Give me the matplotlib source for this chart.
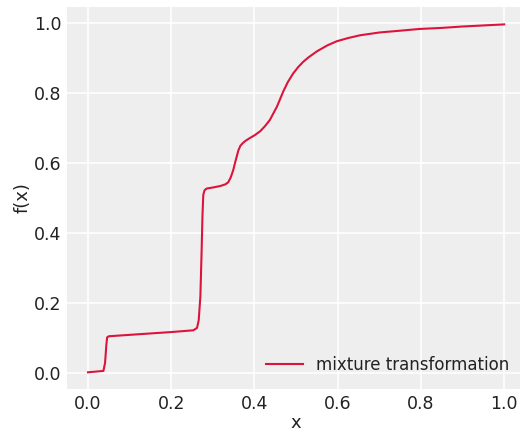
import numpy as np
import matplotlib
matplotlib.use("Agg")
import matplotlib.pyplot as plt

# points
x_vals = [0.0, 0.037, 0.041, 0.044, 0.046, 0.05, 0.10, 0.15, 0.20, 0.253, 0.262, 0.266,
          0.270, 0.273, 0.275, 0.277, 0.280, 0.285, 0.300, 0.317, 0.330, 0.337, 0.343,
          0.349, 0.353, 0.357, 0.361, 0.366, 0.372, 0.378, 0.387, 0.400, 0.414, 0.425,
          0.437, 0.445, 0.454, 0.461, 0.469, 0.480, 0.493, 0.505, 0.517, 0.530, 0.550,
          0.575, 0.598, 0.625, 0.654, 0.701, 0.750, 0.797, 0.850, 0.900, 0.950, 1.0]
f_vals = [0.003, 0.007, 0.03, 0.08, 0.103, 0.106, 0.110, 0.114, 0.118, 0.123, 0.13, 0.152,
          0.22, 0.35, 0.45, 0.51, 0.523, 0.528, 0.531, 0.535, 0.540, 0.546, 0.560,
          0.581, 0.600, 0.618, 0.636, 0.650, 0.658, 0.664, 0.671, 0.680, 0.692, 0.706,
          0.724, 0.742, 0.762, 0.782, 0.805, 0.832, 0.857, 0.875, 0.890, 0.903, 0.920,
          0.937, 0.949, 0.958, 0.966, 0.974, 0.979, 0.984, 0.987, 0.991, 0.994, 0.997]

plt.rcParams['font.family'] = ['DejaVu Sans']

fig = plt.figure(figsize=(5.2, 4.34), dpi=100)
# the reference is cropped on the right, so the axes run a little past the edge
ax = fig.add_axes([67.2 / 520, 1 - 389 / 434, (525 - 67.2) / 520, (389 - 7) / 434])
ax.set_facecolor('#eeeeee')
for s in ax.spines.values():
    s.set_visible(False)
ax.grid(True, color='white', linewidth=1.1)
ax.set_axisbelow(True)
ax.tick_params(length=0, labelsize=12.5, labelcolor='#222222', pad=4)

ax.plot(x_vals, f_vals, color='#dc143c', linewidth=1.5, label='mixture transformation')
ax.set_xlim(-0.05, 1.05)
ax.set_ylim(-0.0447, 1.0467)
ax.set_xticks(np.arange(0, 1.01, 0.2))
ax.set_yticks(np.arange(0, 1.01, 0.2))
ax.set_xlabel('x', fontsize=13, color='#222222', labelpad=1)
ax.set_ylabel('f(x)', fontsize=13, color='#222222', labelpad=2)
ax.legend(loc='lower right', frameon=False, fontsize=12, handlelength=2.2,
          labelcolor='#222222', bbox_to_anchor=(0.998, 0.0))

fig.savefig('out.png', dpi=100)
